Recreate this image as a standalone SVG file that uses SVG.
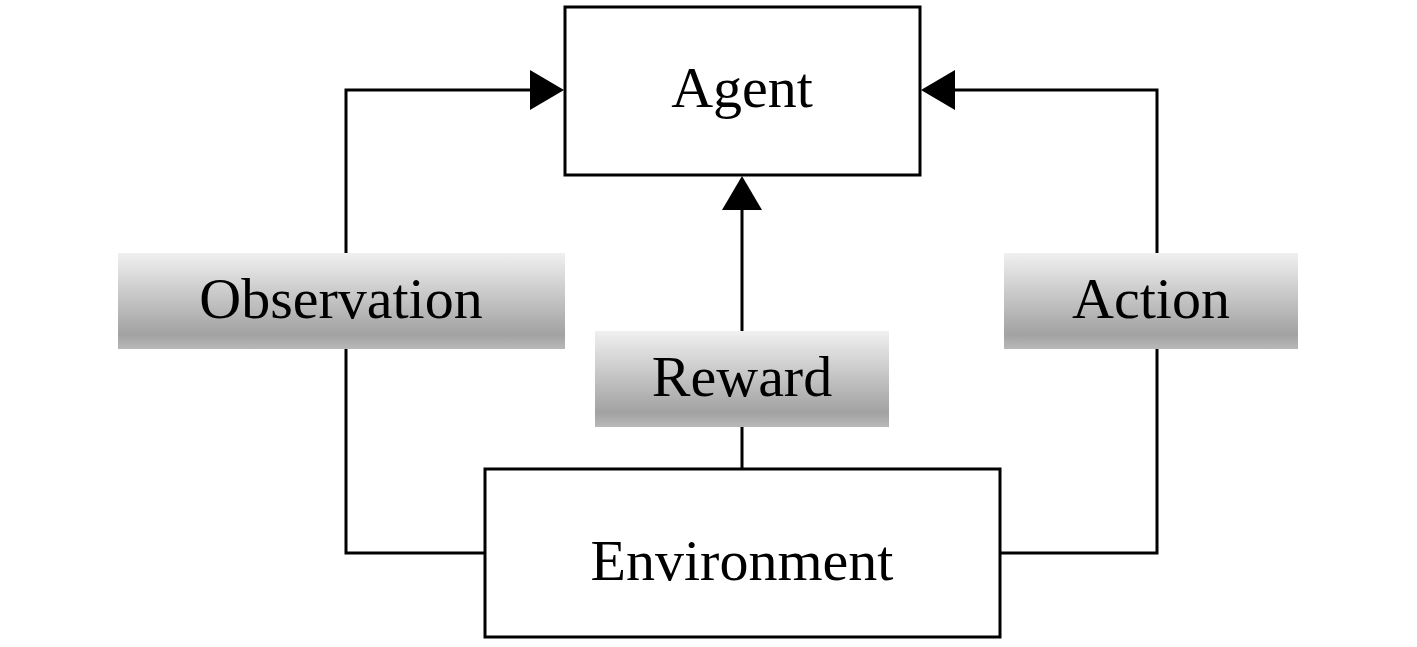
<svg xmlns="http://www.w3.org/2000/svg" width="1417" height="647" viewBox="0 0 1417 647">
<style>
.box{fill:#fff;stroke:#000;stroke-width:3}
.line{fill:none;stroke:#000;stroke-width:3}
.lbl{fill:url(#g)}
text{font-family:"Liberation Serif","Times New Roman",serif;font-size:58px;fill:#000;text-anchor:middle}
</style>
<defs>
<linearGradient id="g" x1="0" y1="0" x2="0" y2="1">
<stop offset="0" stop-color="#f0f0f0"/>
<stop offset="0.85" stop-color="#a2a2a2"/>
<stop offset="1" stop-color="#b8b8b8"/>
</linearGradient>
</defs>
<rect width="1417" height="647" fill="#fff"/>
<g id="connectors">
<polyline class="line" points="485,553 346,553 346,90 532,90"/>
<polygon points="530,70 564,90 530,110"/>
<polyline class="line" points="1000,553 1157,553 1157,90 953,90"/>
<polygon points="955,70 921,90 955,110"/>
<line class="line" x1="742" y1="469" x2="742" y2="208"/>
<polygon points="722,210 742,176 762,210"/>
</g>
<g id="agent">
<rect class="box" x="565" y="7" width="355" height="168"/>
<text x="742" y="107">Agent</text>
</g>
<g id="environment">
<rect class="box" x="485" y="469" width="515" height="168"/>
<text x="742" y="580">Environment</text>
</g>
<g id="observation">
<rect class="lbl" x="118" y="253" width="447" height="96"/>
<text x="341" y="318">Observation</text>
</g>
<g id="reward">
<rect class="lbl" x="595" y="331" width="294" height="96"/>
<text x="742" y="396">Reward</text>
</g>
<g id="action">
<rect class="lbl" x="1004" y="253" width="294" height="96"/>
<text x="1151" y="318">Action</text>
</g>
</svg>
